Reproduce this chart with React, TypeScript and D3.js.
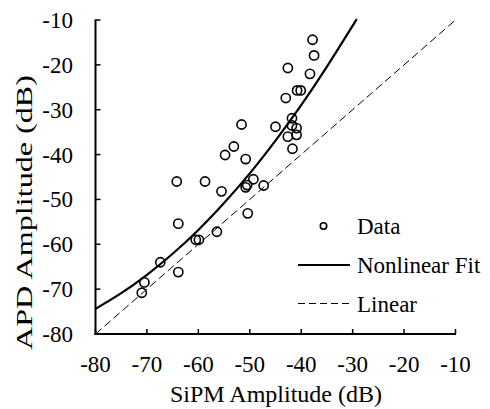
import React from "react";
import * as d3 from "d3";

const sipm = [-71.0, -70.5, -67.4, -63.9, -63.9, -60.5, -59.9, -56.4, -50.4, -64.2, -58.7, -55.5, -50.8, -50.5, -49.3, -47.3, -54.8, -53.1, -50.8, -51.6, -45.0, -42.6, -41.7, -41.8, -41.8, -40.9, -40.9, -43.0, -42.6, -40.8, -40.1, -38.3, -37.8, -37.5];
const apd = [-70.8, -68.5, -64.0, -66.2, -55.4, -59.0, -59.0, -57.2, -53.1, -46.0, -46.0, -48.2, -47.3, -46.8, -45.5, -46.9, -40.1, -38.2, -41.0, -33.3, -33.8, -36.0, -38.7, -31.9, -33.5, -34.1, -35.6, -27.4, -20.7, -25.7, -25.7, -22.0, -14.4, -17.9];

const fitX = [-80, -75, -70, -65, -60, -55, -50, -45, -40, -35, -29.2];
const fitY = [-74.4, -70.9, -66.8, -62.1, -56.8, -50.8, -44.2, -36.9, -29.0, -20.4, -9.8];

const linX = [-80, -10];
const linY = [-80, -10];

const xTicks = [-80, -70, -60, -50, -40, -30, -20, -10];
const yTicks = [-80, -70, -60, -50, -40, -30, -20, -10];

const legendLabels = ["Data", "Nonlinear Fit", "Linear"];

export default function App() {
  const W = 490, H = 409;
  const left = 95.5, right = 455.5, top = 20, bottom = 334;
  const x = d3.scaleLinear().domain([-80, -10]).range([left, right]);
  const y = d3.scaleLinear().domain([-80, -10]).range([bottom, top]);
  const font = "'Liberation Serif', 'Times New Roman', serif";

  const fitLine = d3
    .line<number>()
    .x((_, i) => x(fitX[i]))
    .y((d) => y(d))
    .curve(d3.curveNatural)(fitY) as string;
  const linLine = d3
    .line<number>()
    .x((_, i) => x(linX[i]))
    .y((d) => y(d))(linY) as string;

  const legX0 = 298, legX1 = 350, legTextX = 357;
  const legY = [226, 265, 303.5];

  return (
    <svg
      width={W}
      height={H}
      style={{ position: "absolute", left: 0, top: 0, background: "#fff" }}
      fontFamily={font}
    >
      <rect x={0} y={0} width={W} height={H} fill="#fff" />
      <path d={linLine} fill="none" stroke="#000" strokeWidth={1} strokeDasharray="8,4" />
      <path d={fitLine} fill="none" stroke="#000" strokeWidth={2.2} />
      {sipm.map((v, i) => (
        <circle key={i} cx={x(v)} cy={y(apd[i])} r={4.6} fill="none" stroke="#000" strokeWidth={1.6} />
      ))}
      {/* axes */}
      <line x1={left} x2={left} y1={top - 0.5} y2={bottom + 1} stroke="#000" strokeWidth={2} />
      <line x1={left - 1} x2={right + 0.5} y1={bottom} y2={bottom} stroke="#000" strokeWidth={2} />
      {yTicks.map((t) => (
        <g key={"y" + t}>
          <line x1={left} x2={left + 5} y1={y(t)} y2={y(t)} stroke="#000" strokeWidth={1.5} />
          <text x={73} y={y(t)} dy="0.35em" textAnchor="end" fontSize={23}>
            {t}
          </text>
        </g>
      ))}
      {xTicks.map((t) => (
        <g key={"x" + t}>
          <line x1={x(t)} x2={x(t)} y1={bottom} y2={bottom - 5} stroke="#000" strokeWidth={1.5} />
          <text x={x(t)} y={372} textAnchor="middle" fontSize={23}>
            {t}
          </text>
        </g>
      ))}
      <text x={276} y={402} textAnchor="middle" fontSize={24}>
        SiPM Amplitude (dB)
      </text>
      <text
        transform="translate(32,212.5) rotate(-90)"
        textAnchor="middle"
        fontSize={24}
        textLength={275}
        lengthAdjust="spacingAndGlyphs"
      >
        APD Amplitude (dB)
      </text>
      {/* legend */}
      <circle cx={323.5} cy={legY[0]} r={3.2} fill="none" stroke="#000" strokeWidth={1.6} />
      <line x1={legX0} x2={legX1} y1={legY[1]} y2={legY[1]} stroke="#000" strokeWidth={2.2} />
      <line x1={legX0} x2={legX1} y1={legY[2]} y2={legY[2]} stroke="#000" strokeWidth={1} strokeDasharray="7,4" />
      {legendLabels.map((l, i) => (
        <text key={l} x={legTextX} y={legY[i]} dy="0.35em" fontSize={23}>
          {l}
        </text>
      ))}
    </svg>
  );
}
